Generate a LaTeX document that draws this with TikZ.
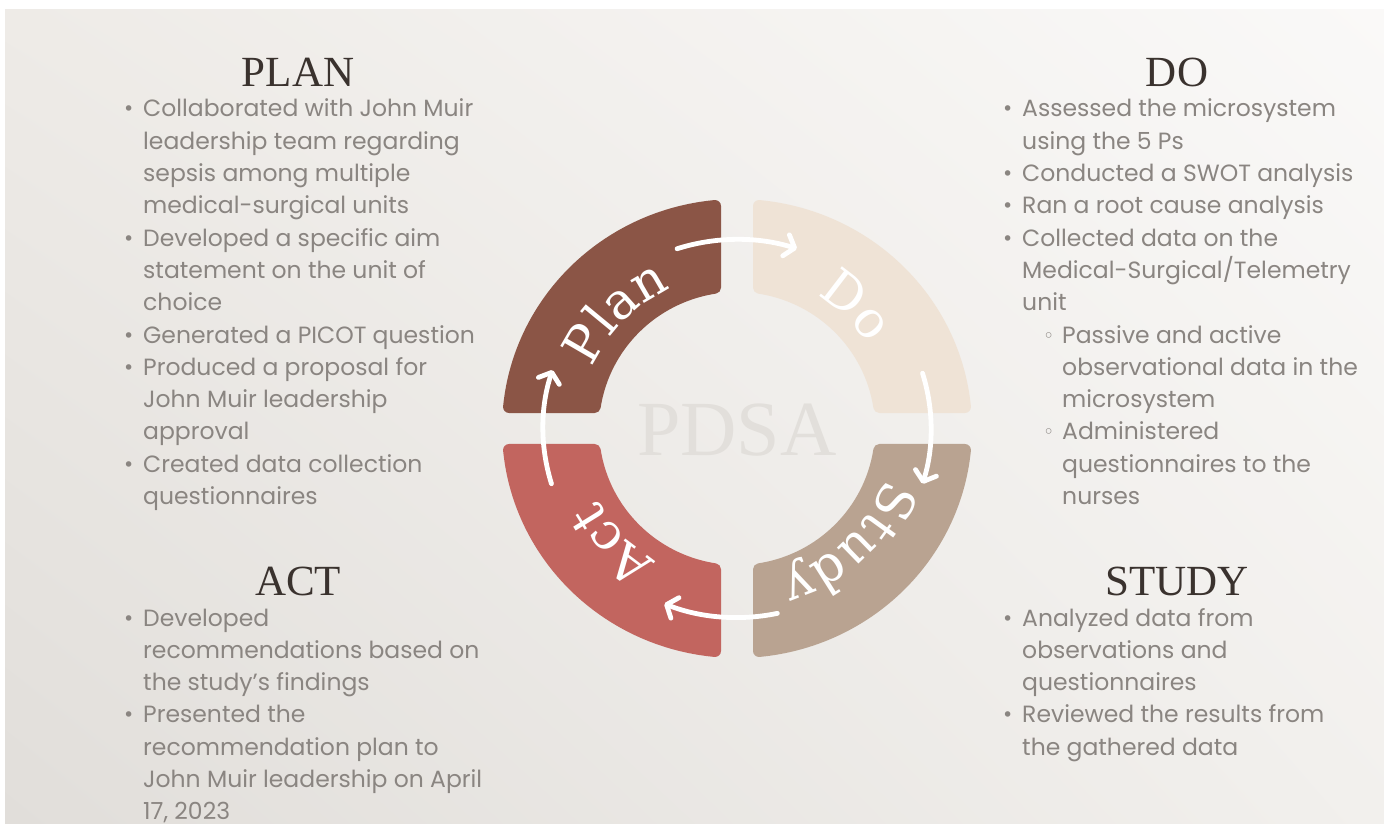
\documentclass[tikz,border=0pt]{standalone}
\usepackage{fontspec}
\usetikzlibrary{arrows.meta,decorations.text,calc,shadings}
\setmainfont{Poppins}
\newfontfamily\headfont{Liberation Serif}
\newfontfamily\ringfont{DejaVu Serif}
\newfontfamily\symfont{DejaVu Sans}

\definecolor{planc}{HTML}{8B5546}
\definecolor{doc}{HTML}{EFE3D6}
\definecolor{studyc}{HTML}{B9A391}
\definecolor{actc}{HTML}{C2655F}
\definecolor{headc}{HTML}{3A322E}
\definecolor{bodyc}{HTML}{8A8581}
\definecolor{markc}{HTML}{E2DFDB}
\definecolor{bgul}{RGB}{238,235,231}
\definecolor{bgur}{RGB}{250,249,248}
\definecolor{bgll}{RGB}{225,222,218}
\definecolor{bglr}{RGB}{242,240,237}

% list helpers
\newcommand\bul{\makebox[19pt][l]{\hspace*{-1pt}\raisebox{1pt}{\symfont\fontsize{19}{19}\selectfont\char"2022}}}
\newcommand\ind{\hspace*{19pt}}
\newcommand\sbul{\hspace*{21pt}\makebox[19pt][l]{\raisebox{1pt}{\symfont\fontsize{19}{19}\selectfont\char"25E6}}}
\newcommand\sind{\hspace*{40pt}}
\newcommand\ringtxt{\ringfont\fontsize{51}{51}\selectfont\color{white}}

\tikzset{
  heading/.style={font=\headfont\fontsize{43}{43}\selectfont, text=headc, inner sep=0pt, anchor=base},
  block/.style={font=\fontsize{23.5}{32.3}\selectfont, text=bodyc, inner sep=0pt, anchor=base west},
  seg/.style={line width=12pt, line join=round},
  cyc/.style={draw=white, line width=4.8pt, line cap=round, -{Straight Barb[length=9pt,width=22pt,round]}},
  ringlabel/.style={decorate, decoration={text along path, text align=center, text={|\ringtxt|#1}}}
}

% one quarter of the ring (upper left), shrunk so the round stroke gives soft corners
\pgfmathsetmacro\ta{180-asin(21.5/223.5)}
\pgfmathsetmacro\tb{90+asin(22/229)}
\pgfmathsetmacro\tc{90+asin(22/144)}
\pgfmathsetmacro\td{180-asin(21.5/142.5)}
\newcommand\quarter[1]{%
  \path[seg, fill=#1, draw=#1] (\ta:229 and 223.5)
    arc[start angle=\ta, end angle=\tb, x radius=229, y radius=223.5]
    -- (\tc:144 and 142.5)
    arc[start angle=\tc, end angle=\td, x radius=144, y radius=142.5] -- cycle;}

\begin{document}
\begin{tikzpicture}[x=1pt, y=1pt]
\useasboundingbox (0,0) rectangle (1384,823);
\fill[white] (0,0) rectangle (1384,823);
\shade[upper left=bgul, upper right=bgur, lower left=bgll, lower right=bglr]
  (5,0) rectangle (1384,813);

% PDSA ring
\begin{scope}[shift={(737,394.5)}]
  \coordinate (C) at (0,0);
  \quarter{planc}
  \begin{scope}[xscale=-1]\quarter{doc}\end{scope}
  \begin{scope}[xscale=-1, yscale=-1]\quarter{studyc}\end{scope}
  \begin{scope}[yscale=-1]\quarter{actc}\end{scope}

  \node[font=\headfont\fontsize{78}{78}\selectfont, text=markc, inner sep=0pt] (pdsa) at (0,-1.5) {PDSA};

  \path[ringlabel=Plan] (186:157 and 154) arc[start angle=186, end angle=86, x radius=157, y radius=154];
  \path[ringlabel=Do] (96:157 and 154) arc[start angle=96, end angle=-4, x radius=157, y radius=154];
  \path[ringlabel=Study] (4:157 and 154) arc[start angle=4, end angle=-96, x radius=157, y radius=154];
  \path[ringlabel=Act] (273:157 and 154) arc[start angle=273, end angle=173, x radius=157, y radius=154];

  \coordinate (pd) at (108:194 and 189);
  \coordinate (ds) at (17:194 and 189);
  \coordinate (sa) at (-78:194 and 189);
  \coordinate (ap) at (197:194 and 189);
  \draw[cyc] (pd) arc[start angle=108, end angle=72, x radius=194, y radius=189];
  \draw[cyc] (ds) arc[start angle=17, end angle=-17, x radius=194, y radius=189];
  \draw[cyc] (sa) arc[start angle=-78, end angle=-112, x radius=194, y radius=189];
  \draw[cyc] (ap) arc[start angle=197, end angle=162, x radius=194, y radius=189];
\end{scope}

% headings
\node[heading] (hplan) at (298,736) {PLAN};
\node[heading] (hdo) at (1177,736) {DO};
\node[heading] (hact) at (298,228) {ACT};
\node[heading] (hstudy) at (1177,228) {STUDY};

% bullet lists
\node[block] (lplan) at (124,706) {\begin{tabular}[t]{@{}l@{}}
\bul Collaborated with John Muir\\
\ind leadership team regarding\\
\ind sepsis among multiple\\
\ind medical-surgical units\\
\bul Developed a specific aim\\
\ind statement on the unit of\\
\ind choice\\
\bul Generated a PICOT question\\
\bul Produced a proposal for\\
\ind John Muir leadership\\
\ind approval\\
\bul Created data collection\\
\ind questionnaires
\end{tabular}};

\node[block] (ldo) at (1003,706) {\begin{tabular}[t]{@{}l@{}}
\bul Assessed the microsystem\\
\ind using the 5 Ps\\
\bul Conducted a SWOT analysis\\
\bul Ran a root cause analysis\\
\bul Collected data on the\\
\ind Medical-Surgical/Telemetry\\
\ind unit\\
\ind\sbul Passive and active\\
\ind\sind observational data in the\\
\ind\sind microsystem\\
\ind\sbul Administered\\
\ind\sind questionnaires to the\\
\ind\sind nurses
\end{tabular}};

\node[block] (lact) at (124,197) {\begin{tabular}[t]{@{}l@{}}
\bul Developed\\
\ind recommendations based on\\
\ind the study’s findings\\
\bul Presented the\\
\ind recommendation plan to\\
\ind John Muir leadership on April\\
\ind 17, 2023
\end{tabular}};

\node[block] (lstudy) at (1003,197) {\begin{tabular}[t]{@{}l@{}}
\bul Analyzed data from\\
\ind observations and\\
\ind questionnaires\\
\bul Reviewed the results from\\
\ind the gathered data
\end{tabular}};
\end{tikzpicture}
\end{document}
